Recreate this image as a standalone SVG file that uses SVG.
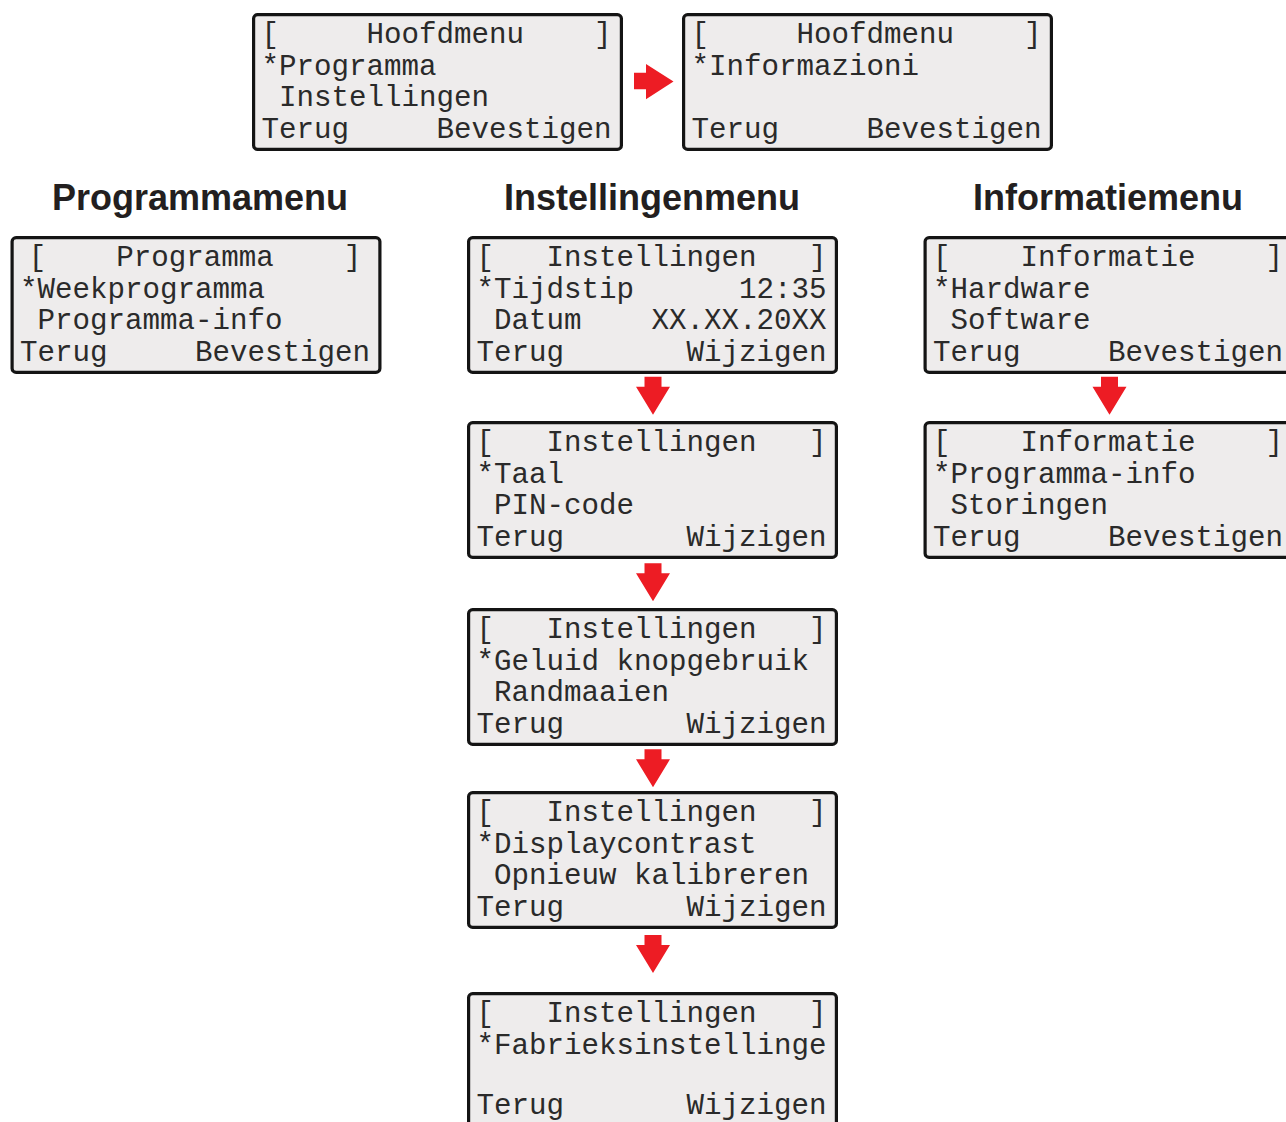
<svg xmlns="http://www.w3.org/2000/svg" width="1286" height="1122" viewBox="0 0 1286 1122" xml:space="preserve">
<style>
.box{fill:#EEECEC;stroke:#141414;stroke-width:3.2}
.lcd{font-family:"Liberation Mono","DejaVu Sans Mono",monospace;font-size:29.17px;fill:#2a2a2a;white-space:pre}
.hdr{font-family:"Liberation Sans",Arial,sans-serif;font-weight:bold;font-size:36px;fill:#231f20;text-anchor:middle}
.arr{fill:#ED1C24}
</style>
<rect width="1286" height="1122" fill="#ffffff"/>

<g id="headings">
<text class="hdr" x="200" y="210">Programmamenu</text>
<text class="hdr" x="652" y="210">Instellingenmenu</text>
<text class="hdr" x="1108" y="210">Informatiemenu</text>
</g>

<g id="hoofdmenu1">
<rect class="box" x="253.6" y="14.6" width="367.8" height="134.8" rx="4"/>
<text class="lcd" x="261.5" y="43">[     Hoofdmenu    ]</text>
<text class="lcd" x="261.5" y="74.5">*Programma</text>
<text class="lcd" x="261.5" y="106"> Instellingen</text>
<text class="lcd" x="261.5" y="137.5">Terug     Bevestigen</text>
</g>

<g id="hoofdmenu2">
<rect class="box" x="683.6" y="14.6" width="367.8" height="134.8" rx="4"/>
<text class="lcd" x="691.5" y="43">[     Hoofdmenu    ]</text>
<text class="lcd" x="691.5" y="74.5">*Informazioni</text>
<text class="lcd" x="691.5" y="137.5">Terug     Bevestigen</text>
</g>

<g id="programma">
<rect class="box" x="12.1" y="237.6" width="367.8" height="134.8" rx="4"/>
<text class="lcd" x="28.75" y="266">[    Programma    ]</text>
<text class="lcd" x="20" y="297.5">*Weekprogramma</text>
<text class="lcd" x="20" y="329"> Programma-info</text>
<text class="lcd" x="20" y="360.5">Terug     Bevestigen</text>
</g>

<g id="instellingen1">
<rect class="box" x="468.6" y="237.6" width="367.8" height="134.8" rx="4"/>
<text class="lcd" x="476.5" y="266">[   Instellingen   ]</text>
<text class="lcd" x="476.5" y="297.5">*Tijdstip      12:35</text>
<text class="lcd" x="476.5" y="329"> Datum    XX.XX.20XX</text>
<text class="lcd" x="476.5" y="360.5">Terug       Wijzigen</text>
</g>

<g id="instellingen2">
<rect class="box" x="468.6" y="422.6" width="367.8" height="134.8" rx="4"/>
<text class="lcd" x="476.5" y="451">[   Instellingen   ]</text>
<text class="lcd" x="476.5" y="482.5">*Taal</text>
<text class="lcd" x="476.5" y="514"> PIN-code</text>
<text class="lcd" x="476.5" y="545.5">Terug       Wijzigen</text>
</g>

<g id="instellingen3">
<rect class="box" x="468.6" y="609.6" width="367.8" height="134.8" rx="4"/>
<text class="lcd" x="476.5" y="638">[   Instellingen   ]</text>
<text class="lcd" x="476.5" y="669.5">*Geluid knopgebruik</text>
<text class="lcd" x="476.5" y="701"> Randmaaien</text>
<text class="lcd" x="476.5" y="732.5">Terug       Wijzigen</text>
</g>

<g id="instellingen4">
<rect class="box" x="468.6" y="792.6" width="367.8" height="134.8" rx="4"/>
<text class="lcd" x="476.5" y="821">[   Instellingen   ]</text>
<text class="lcd" x="476.5" y="852.5">*Displaycontrast</text>
<text class="lcd" x="476.5" y="884"> Opnieuw kalibreren</text>
<text class="lcd" x="476.5" y="915.5">Terug       Wijzigen</text>
</g>

<g id="instellingen5">
<rect class="box" x="468.6" y="993.6" width="367.8" height="134.8" rx="4"/>
<text class="lcd" x="476.5" y="1022">[   Instellingen   ]</text>
<text class="lcd" x="476.5" y="1053.5">*Fabrieksinstellinge</text>
<text class="lcd" x="476.5" y="1114">Terug       Wijzigen</text>
</g>

<g id="informatie1">
<rect class="box" x="925.1" y="237.6" width="367.8" height="134.8" rx="4"/>
<text class="lcd" x="933" y="266">[    Informatie    ]</text>
<text class="lcd" x="933" y="297.5">*Hardware</text>
<text class="lcd" x="933" y="329"> Software</text>
<text class="lcd" x="933" y="360.5">Terug     Bevestigen</text>
</g>

<g id="informatie2">
<rect class="box" x="925.1" y="422.6" width="367.8" height="134.8" rx="4"/>
<text class="lcd" x="933" y="451">[    Informatie    ]</text>
<text class="lcd" x="933" y="482.5">*Programma-info</text>
<text class="lcd" x="933" y="514"> Storingen</text>
<text class="lcd" x="933" y="545.5">Terug     Bevestigen</text>
</g>

<g id="connectors">
<polygon class="arr" points="634,72.7 646,72.7 646,64 673.5,81.6 646,99.3 646,89.3 634,89.3"/>
<polygon class="arr" points="644.5,376.7 661.5,376.7 661.5,386.7 670,386.7 653,414.7 636,386.7 644.5,386.7"/>
<polygon class="arr" points="644.5,563.3 661.5,563.3 661.5,573.3 670,573.3 653,601.3 636,573.3 644.5,573.3"/>
<polygon class="arr" points="644.5,749.3 661.5,749.3 661.5,759.3 670,759.3 653,787.3 636,759.3 644.5,759.3"/>
<polygon class="arr" points="644.5,935 661.5,935 661.5,945 670,945 653,973 636,945 644.5,945"/>
<polygon class="arr" points="1101,376.7 1118,376.7 1118,386.7 1126.5,386.7 1109.5,414.7 1092.5,386.7 1101,386.7"/>
</g>
</svg>
